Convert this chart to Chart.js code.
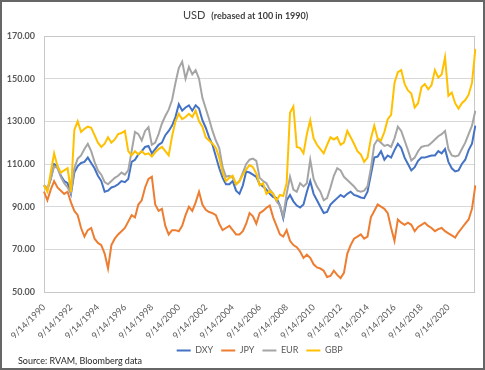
<!DOCTYPE html>
<html>
<head>
<meta charset="utf-8">
<script src="https://cdn.jsdelivr.net/npm/chart.js@4.4.1/dist/chart.umd.min.js"></script>
<style>
  body { margin: 0; background: #fff; }
  #wrap { position: relative; width: 485px; height: 370px; background: #fff; font-family: Lato, "Open Sans", sans-serif; }
  #chart { position: absolute; left: 0; top: 0; }
  #title { position: absolute; left: 183px; top: 8px; font-size: 11px; line-height: 14px; color: #404040; white-space: nowrap; }
  #title b { font-size: 9px; margin-left: 3px; }
  #source { position: absolute; left: 18px; top: 355px; font-size: 9px; line-height: 11px; color: #262626; }
  #frame { position: absolute; left: 0; top: 0; width: 485px; height: 370px; box-sizing: border-box; border: 2px solid #666; pointer-events: none; }
</style>
</head>
<body>
<div id="wrap">
  <canvas id="chart" width="485" height="370"></canvas>
  <div id="title">USD <b>(rebased at 100 in 1990)</b></div>
  <div id="source">Source: RVAM, Bloomberg data</div>
  <div id="frame"></div>
</div>
<script>
// quarterly readings (14th of Sep/Dec/Mar/Jun), 9/14/1990 .. 9/14/2022
const dxy = [100,98,103,110,109,104.5,102,101, 96,106,109,110.5,111,113,110.5,108,
  104.5,102,97,97.5,99,99.5,100.5,102, 101.5,103,111,112,114.5,116,118,118.5,
  115,117,119,120,123.5,125.5,128,132, 138,135,136.5,137.5,135,137.5,136,130.5,
  127,122.5,119,113.5,108,103.5,100.5,100.5, 102,97.5,96,100,106.5,106,105,104,
  100.5,99.5,98,96,94.5,94,90.5,84.5, 93,95.5,92.5,90.5,89.6,91,97,102,
  96,93,90,87,87.5,91,92.5,94, 95.5,94.5,96,97,95.5,95,94.3,
  94,97,105,113,113.5,116,112,114, 113,116.5,119.5,117.5,113,110,107,108.5,
  111.5,113,113,113.5,114,114,116,115, 117,111,108,106.5,107,110,112,116.5,
  119.5,128];

const jpy = [97,93,98,102,99,97.5,96,97, 92,88,86,80,76,79,80,75,
  73,72,68,61,72,75,77,78.5, 80,83,86,85,91,93,99,103,
  104,91,88,89,81,77,79,79, 78.5,81,86,90,88,92,97,91,
  88.5,87.5,87,86,82,79,80,81, 79,77,77,78.5,82,87,85.5,82,
  87,88,89.5,90.5,85,81,77,76, 79,74,72,71,69,66,67.5,66,
  63,61.5,61,60,57,57.5,60,58, 56.5,59,68,72,75,76,77,
  75,76,85,88,91,90,89,87, 80,74,84,82.5,81.5,82.5,81.5,78.5,
  80.5,81.5,82.5,81,80,78.5,79.5,80, 78.5,77.5,76.5,75.5,78,80,82,84,
  89,100];

const eur = [100,98.5,103,109,108,104,101,99, 96.5,108,112.5,114,117,119.5,116,111,
  107,105,101.5,100.5,102,103.5,104.5,106, 105,107,116,125,124,121,125.5,127.3,
  119,120,124,129,132.5,135.5,140,148, 155,158,150,155.5,152,154,150,141,
  136,131,125.5,121,117.5,108.5,104,104.5, 103.5,100.5,102,106,110,112,112.5,111.5,
  103.5,102,101,98,96,92.5,90.5,85.5, 96,104,98,97,101,99.5,101,112,
  103,99.5,97,93,94,99,104.5,108, 107,104,102.5,101,99.5,97.5,97,
  97.5,99.5,108,119,121.5,120,118.5,119, 118,122,127.5,125.5,121,116.5,111.6,113,
  116,118,118.5,118.7,120,121.5,123,124, 125.5,117,114,113.5,114,117,120,124,
  128,135];

const gbp = [100,97,106,115,109,106,107,108, 97,126,130,125,126.5,127.5,127,123.5,
  120,118,119.5,122.5,120,121.5,124,124.5, 125.5,116,114,116,114.5,116,114.5,115,
  113.5,115.5,117,118,116,114,123,130, 133.5,131,132,133.5,132,135,130,127.5,
  122.5,121,119.5,117.5,113,106,102,103.5, 104.5,100.5,102,105,107.5,109.5,108.5,105.5,
  100,101,96,97.5,96,93,95.5,95, 101,134,137,118,117.5,115,124,130.5,
  122,119,117,115,119,122.5,121.5,122.5, 119,120,125.5,122.5,119.5,116,114.5,
  111,113,122,128,122,121,125,131, 133,148,153,154,147.5,144.5,143,136.5,
  138.5,146,147.5,145,147,154,150.5,152, 160,142,143.5,138.5,136,138.5,140,142.5,
  148,164];

const tickLabels = ['9/14/1990','9/14/1992','9/14/1994','9/14/1996','9/14/1998','9/14/2000',
  '9/14/2002','9/14/2004','9/14/2006','9/14/2008','9/14/2010','9/14/2012',
  '9/14/2014','9/14/2016','9/14/2018','9/14/2020'];

const quarterMonths = [9, 12, 3, 6];
const dates = dxy.map((v, i) => quarterMonths[i % 4] + '/14/' + (1990 + Math.floor((i + 2) / 4)));

const axisGrey = '#595959';

const plotBorder = {
  id: 'plotBorder',
  beforeDatasetsDraw(chart) {
    const { ctx, chartArea: a } = chart;
    ctx.save();
    ctx.strokeStyle = '#C8C8C8';
    ctx.lineWidth = 1;
    ctx.strokeRect(Math.round(a.left) + 0.5, Math.round(a.top) + 0.5, Math.round(a.width) - 1, Math.round(a.height));
    ctx.restore();
  }
};

function series(label, data, color, order) {
  return { label, data, borderColor: color, backgroundColor: color, borderWidth: 2,
    pointRadius: 0, tension: 0, fill: false, order };
}

const ctx = document.getElementById('chart').getContext('2d');
const chart = new Chart(ctx, {
  type: 'line',
  data: {
    labels: dates,
    datasets: [
      series('DXY', dxy, '#4472C4', 3),
      series('JPY', jpy, '#ED7D31', 2),
      series('EUR', eur, '#A5A5A5', 1),
      series('GBP', gbp, '#FFC000', 0)
    ]
  },
  options: {
    responsive: false,
    animation: false,
    layout: { padding: { top: 36, right: 2, left: 0, bottom: 5 } },
    plugins: {
      legend: {
        position: 'bottom',
        fullSize: false,
        labels: {
          usePointStyle: true, pointStyle: 'line', pointStyleWidth: 14, boxHeight: 9,
          color: axisGrey, font: { family: 'Lato', size: 9 }, padding: 8,
          sort: (a, b) => a.datasetIndex - b.datasetIndex
        }
      },
      tooltip: { enabled: false }
    },
    scales: {
      x: {
        grid: { display: false },
        border: { display: false },
        ticks: {
          autoSkip: false, minRotation: 45, maxRotation: 45, padding: 2,
          color: axisGrey, font: { family: 'Lato', size: 9 },
          callback: function(v, i) { return tickLabels.includes(dates[i]) ? dates[i] : ''; }
        },
        afterFit: s => { s.height = 46; }
      },
      y: {
        min: 50, max: 170,
        grid: { color: '#D9D9D9', drawTicks: false },
        border: { display: false },
        ticks: {
          stepSize: 20, padding: 9, color: axisGrey,
          font: { family: 'Lato', size: 9, weight: 'bold' },
          callback: v => v.toFixed(2)
        },
        afterFit: s => { s.width = 44; }
      }
    }
  },
  plugins: [plotBorder]
});
</script>
</body>
</html>
